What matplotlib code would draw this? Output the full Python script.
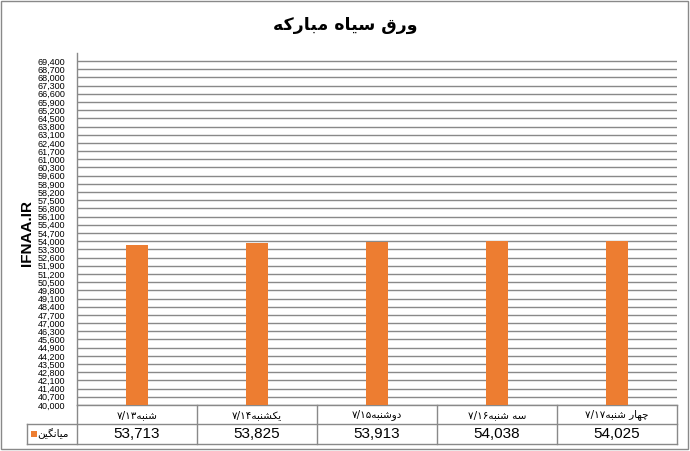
import re
import numpy as np
import matplotlib
matplotlib.use("Agg")
import matplotlib.pyplot as plt
from matplotlib.patches import Rectangle
from matplotlib.lines import Line2D

# ---------------- data ----------------
title = "ورق سیاه مبارکه"
y_label = "IFNAA.IR"
categories = ["شنبه۷/۱۳", "یکشنبه۷/۱۴", "دوشنبه۷/۱۵", "سه شنبه۷/۱۶", "چهار شنبه۷/۱۷"]
series_name = "میانگین"
values = [53713, 53825, 53913, 54038, 54025]
y_min, y_max, y_step = 40000, 69400, 700

# ---------------- minimal Persian shaping ----------------
# (isolated, final, initial, medial)
FORMS = {
    "ا": ("\uFE8D", "\uFE8E", None, None),
    "ب": ("\uFE8F", "\uFE90", "\uFE91", "\uFE92"),
    "چ": ("\uFB7A", "\uFB7B", "\uFB7C", "\uFB7D"),
    "د": ("\uFEA9", "\uFEAA", None, None),
    "ر": ("\uFEAD", "\uFEAE", None, None),
    "و": ("\uFEED", "\uFEEE", None, None),
    "س": ("\uFEB1", "\uFEB2", "\uFEB3", "\uFEB4"),
    "ش": ("\uFEB5", "\uFEB6", "\uFEB7", "\uFEB8"),
    "ق": ("\uFED5", "\uFED6", "\uFED7", "\uFED8"),
    "ک": ("\uFB8E", "\uFB8F", "\uFB90", "\uFB91"),
    "گ": ("\uFB92", "\uFB93", "\uFB94", "\uFB95"),
    "م": ("\uFEE1", "\uFEE2", "\uFEE3", "\uFEE4"),
    "ن": ("\uFEE5", "\uFEE6", "\uFEE7", "\uFEE8"),
    "ه": ("\uFEE9", "\uFEEA", "\uFEEB", "\uFEEC"),
    "ی": ("\uFBFC", "\uFBFD", "\uFBFE", "\uFBFF"),
}


def dual(c):
    return c in FORMS and FORMS[c][2] is not None


def shape(text):
    out = []
    n = len(text)
    for i, c in enumerate(text):
        if c not in FORMS:
            out.append(c)
            continue
        prev_j = i > 0 and dual(text[i - 1])
        next_j = dual(c) and i < n - 1 and text[i + 1] in FORMS
        iso, fin, ini, med = FORMS[c]
        if prev_j and next_j:
            out.append(med)
        elif prev_j:
            out.append(fin)
        elif next_j:
            out.append(ini)
        else:
            out.append(iso)
    vis = "".join(out)[::-1]
    vis = re.sub(r"[۰-۹0-9/]+", lambda m: m.group()[::-1], vis)
    return vis


# ---------------- figure ----------------
W, H = 690, 451
fig = plt.figure(figsize=(W / 100, H / 100), dpi=100)
fig.patch.set_facecolor("white")

AR = ["DejaVu Sans"]
LAT = ["Liberation Sans", "DejaVu Sans"]
GRID = "#898989"
ORANGE = "#ED7D31"

px_left, px_right = 77, 677
px_axis_bottom, px_top_grid, px_axis_top = 405, 61, 53
ax = fig.add_axes([px_left / W, 1 - px_axis_bottom / H,
                   (px_right - px_left) / W, (px_axis_bottom - px_axis_top) / H])
top_val = y_min + (px_axis_bottom - px_axis_top) / (px_axis_bottom - px_top_grid) * (y_max - y_min)
ax.set_ylim(y_min, top_val)
ax.set_xlim(-0.5, len(categories) - 0.5)

x = np.arange(len(categories))
ax.bar(x, values, width=0.18, color=ORANGE, zorder=3, bottom=0)

yt = np.arange(y_min, y_max + 1, y_step)
ax.set_yticks(yt)
ax.set_yticklabels([f"{v:,}" for v in yt], fontsize=6.5, family=LAT)
ax.tick_params(axis="y", length=0, pad=8.5, colors="black")
ax.set_xticks([])
ax.grid(axis="y", color=GRID, linewidth=1.0, zorder=0)
ax.set_axisbelow(True)
for s in ["top", "right"]:
    ax.spines[s].set_visible(False)
ax.spines["left"].set_color(GRID)
ax.spines["bottom"].set_color(GRID)
ax.spines["left"].set_linewidth(1.0)
ax.spines["bottom"].set_linewidth(1.0)


def fx(px):
    return px / W


def fy(py):
    return 1 - py / H


def fline(x0, y0, x1, y1, color=GRID, lw=1.0):
    fig.add_artist(Line2D([fx(x0), fx(x1)], [fy(y0), fy(y1)], color=color,
                          linewidth=lw, transform=fig.transFigure))


# data table
row1_top, row1_bot, row2_bot = 405, 424, 444
col_w = (px_right - px_left) / len(categories)
for i in range(len(categories) + 1):
    xc = px_left + i * col_w
    fline(xc, row1_top, xc, row2_bot)
fline(27, row1_bot, px_right, row1_bot)
fline(27, row2_bot, px_right, row2_bot)
fline(27, row1_bot, 27, row2_bot)

for i, (cat, v) in enumerate(zip(categories, values)):
    xc = px_left + (i + 0.5) * col_w
    fig.text(fx(xc), fy((row1_top + row1_bot) / 2 + 0.5), shape(cat), ha="center", va="center",
             fontsize=7.5, family=AR)
    fig.text(fx(xc), fy((row1_bot + row2_bot) / 2 + 0.5), f"{v:,}", ha="center", va="center",
             fontsize=11, family=LAT)

# legend key in the table
fig.add_artist(Rectangle((fx(31), fy(437)), 6 / W, 6 / H, facecolor=ORANGE,
                         edgecolor="none", transform=fig.transFigure))
fig.text(fx(53), fy(434), shape(series_name), ha="center", va="center", fontsize=7.5, family=AR)

# title and axis label
fig.text(0.5, fy(25), shape(title), ha="center", va="center", fontsize=12.5,
         fontweight="bold", family=AR)
fig.text(fx(27), fy(233), y_label, rotation=90, ha="center", va="center", fontsize=11,
         fontweight="bold", family=LAT)

# outer chart border
fig.add_artist(Rectangle((fx(1), fy(449)), 687 / W, 448 / H, facecolor="none",
                         edgecolor=GRID, linewidth=1.0, transform=fig.transFigure))

fig.savefig("out.png", dpi=100)
